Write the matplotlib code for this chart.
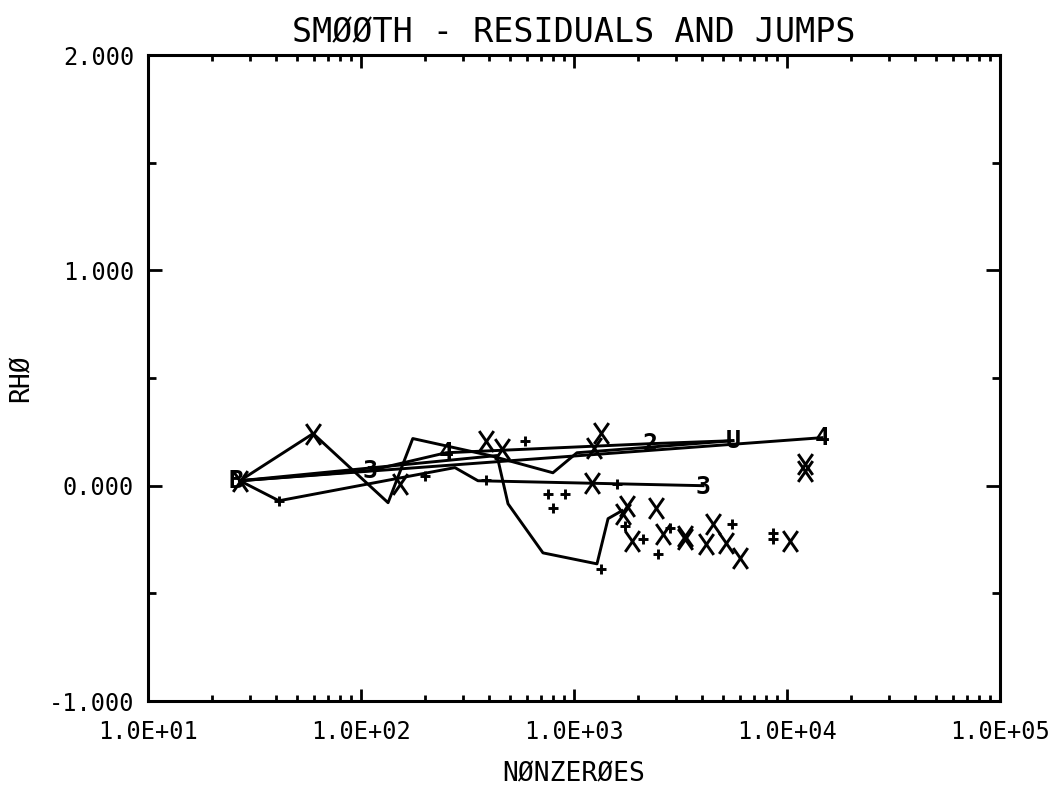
import numpy as np
import matplotlib.pyplot as plt
from matplotlib.path import Path
from matplotlib.ticker import LogLocator, FuncFormatter, MultipleLocator, NullFormatter

# line series (x = nonzeroes, y = rho)
line_a_x = [27, 59.6, 134, 175, 403, 796, 1032, 5570]
line_a_y = [0.023, 0.242, -0.079, 0.219, 0.140, 0.060, 0.153, 0.209]

line_b_x = [27, 41.2, 276, 354, 4036]
line_b_y = [0.023, -0.070, 0.084, 0.023, 0.0]

line_c_x = [27, 14600]
line_c_y = [0.023, 0.223]

line_d_x = [27, 110, 251, 2275, 5570]
line_d_y = [0.023, 0.070, 0.153, 0.195, 0.209]

line_e_x = [27, 435, 490, 715, 1282, 1445, 1680]
line_e_y = [0.023, 0.140, -0.084, -0.312, -0.363, -0.153, -0.116]

# scattered residual points
cross_x = [27, 59.6, 152, 386, 459, 1339, 1241, 1216, 1774, 1698, 1871, 2427, 2618,
           3318, 3318, 4168, 4494, 5173, 6013, 10330, 12160, 12160]
cross_y = [0.023, 0.242, 0.009, 0.209, 0.172, 0.247, 0.177, 0.014, -0.093, -0.130, -0.256,
           -0.102, -0.223, -0.247, -0.233, -0.270, -0.177, -0.265, -0.335, -0.256, 0.102, 0.070]

plus_x = [41.2, 200, 386, 589, 1591, 755, 907, 797, 1734, 2109, 2825, 2478, 5520,
          8594, 8594, 1339]
plus_y = [-0.070, 0.047, 0.028, 0.209, 0.009, -0.037, -0.037, -0.102, -0.186, -0.247,
          -0.195, -0.316, -0.177, -0.219, -0.247, -0.386]

# plotting characters left by the plotter
glyph_text = ["B", "3", "4", "2", "U", "3", "4"]
glyph_x = [26, 110, 251, 2275, 5570, 4036, 14600]
glyph_y = [0.023, 0.070, 0.153, 0.195, 0.209, -0.005, 0.223]

font = "DejaVu Sans Mono"

fig = plt.figure(figsize=(10.54, 7.95), dpi=100)
ax = fig.add_axes([0.1404, 0.1182, 0.8084, 0.8126])

for xs, ys in [(line_a_x, line_a_y), (line_b_x, line_b_y), (line_c_x, line_c_y),
               (line_d_x, line_d_y), (line_e_x, line_e_y)]:
    ax.plot(xs, ys, color="black", lw=2.1)

x_marker = Path([(-0.7, -1), (0.7, 1), (-0.7, 1), (0.7, -1)],
                [Path.MOVETO, Path.LINETO, Path.MOVETO, Path.LINETO])
ax.plot(cross_x, cross_y, ls="none", marker=x_marker, ms=15, mew=2.1, color="black")
ax.plot(plus_x, plus_y, ls="none", marker="+", ms=7.5, mew=2.1, color="black")

for t, gx, gy in zip(glyph_text, glyph_x, glyph_y):
    ax.text(gx, gy, t, ha="center", va="center", fontsize=18, family=font,
            fontweight="bold")

ax.set_xscale("log")
ax.set_xlim(10, 1e5)
ax.set_ylim(-1, 2)

ax.xaxis.set_major_locator(LogLocator(base=10, numticks=10))
ax.xaxis.set_minor_locator(LogLocator(base=10, subs=np.arange(2, 10), numticks=20))
ax.xaxis.set_minor_formatter(NullFormatter())
ax.xaxis.set_major_formatter(FuncFormatter(lambda v, p: f"{v:.1E}"))
ax.yaxis.set_major_locator(MultipleLocator(1.0))
ax.yaxis.set_minor_locator(MultipleLocator(0.5))
ax.yaxis.set_major_formatter(FuncFormatter(lambda v, p: f"{v:.3f}"))

ax.tick_params(which="both", direction="in", top=True, right=True, width=2,
               color="black")
ax.tick_params(axis="x", which="major", length=9, pad=14, labelsize=17)
ax.tick_params(axis="x", which="minor", length=4)
ax.tick_params(axis="y", which="major", length=10, pad=10, labelsize=17)
ax.tick_params(axis="y", which="minor", length=5.5)
for lab in ax.get_xticklabels() + ax.get_yticklabels():
    lab.set_family(font)

for s in ax.spines.values():
    s.set_linewidth(2.2)

ax.set_title("SMØØTH - RESIDUALS AND JUMPS", fontsize=24, family=font, pad=9)
ax.set_xlabel("NØNZERØES", fontsize=19, family=font, labelpad=12)
ax.set_ylabel("RHØ", fontsize=19, family=font, labelpad=10)

fig.savefig("out.png", dpi=100)
